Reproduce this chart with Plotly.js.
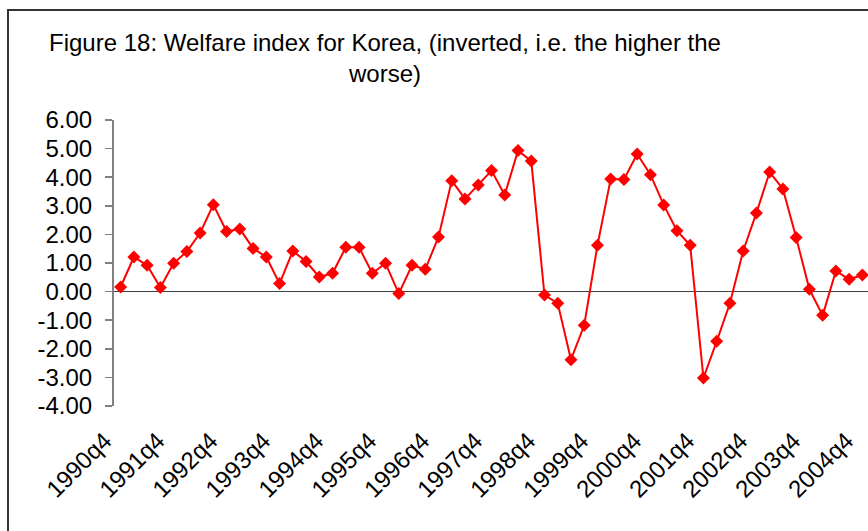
<!DOCTYPE html>
<html>
<head>
<meta charset="utf-8">
<script src="https://cdn.plot.ly/plotly-3.0.1.min.js"></script>
<style>
  html, body { margin: 0; padding: 0; background: #fff; width: 868px; height: 531px; overflow: hidden; }
  #chart { position: absolute; left: 0; top: 0; width: 875px; height: 531px; }
  #frame { position: absolute; left: 7px; top: 9px; width: 1000px; height: 1000px;
           border-left: 2px solid #333; border-top: 2px solid #333; pointer-events: none; }
</style>
</head>
<body>
<div id="chart"></div>
<div id="frame"></div>
<script>
const quarters = [
  "1990q4",
  "1991q1","1991q2","1991q3","1991q4",
  "1992q1","1992q2","1992q3","1992q4",
  "1993q1","1993q2","1993q3","1993q4",
  "1994q1","1994q2","1994q3","1994q4",
  "1995q1","1995q2","1995q3","1995q4",
  "1996q1","1996q2","1996q3","1996q4",
  "1997q1","1997q2","1997q3","1997q4",
  "1998q1","1998q2","1998q3","1998q4",
  "1999q1","1999q2","1999q3","1999q4",
  "2000q1","2000q2","2000q3","2000q4",
  "2001q1","2001q2","2001q3","2001q4",
  "2002q1","2002q2","2002q3","2002q4",
  "2003q1","2003q2","2003q3","2003q4",
  "2004q1","2004q2","2004q3","2004q4"
];

const welfareIndex = [
  0.16,
  1.21, 0.92, 0.14, 0.99,
  1.40, 2.05, 3.04, 2.10,
  2.19, 1.51, 1.21, 0.28,
  1.42, 1.05, 0.51, 0.64,
  1.55, 1.55, 0.64, 0.99,
  -0.07, 0.92, 0.78, 1.91,
  3.88, 3.24, 3.73, 4.23,
  3.38, 4.93, 4.57, -0.12,
  -0.41, -2.38, -1.18, 1.62,
  3.94, 3.92, 4.81, 4.09,
  3.03, 2.13, 1.62, -3.02,
  -1.74, -0.41, 1.42, 2.75,
  4.18, 3.59, 1.89, 0.08,
  -0.83, 0.72, 0.43, 0.58
];

const xTickLabels = ["1990q4","1991q4","1992q4","1993q4","1994q4","1995q4","1996q4",
  "1997q4","1998q4","1999q4","2000q4","2001q4","2002q4","2003q4","2004q4"];
const yTickValues = [6, 5, 4, 3, 2, 1, 0, -1, -2, -3, -4];
const yTickLabels = yTickValues.map(v => v.toFixed(2));

const FONT = "Arial, 'Liberation Sans', sans-serif";

const trace = {
  x: quarters,
  y: welfareIndex,
  type: "scatter",
  mode: "lines+markers",
  line: { color: "#ff0000", width: 2 },
  marker: { symbol: "diamond", size: 10, color: "#ff0000" },
  showlegend: false,
  hoverinfo: "x+y"
};

const layout = {
  autosize: false,
  width: 875,
  height: 531,
  margin: { l: 114, r: 6, t: 120, b: 125 },
  paper_bgcolor: "#ffffff",
  plot_bgcolor: "#ffffff",
  font: { family: FONT, color: "#000000", size: 24 },
  title: {
    text: "Figure 18: Welfare index for Korea, (inverted, i.e. the higher the<br>worse)",
    font: { family: FONT, size: 24, color: "#000000" },
    xref: "container", yref: "container",
    x: 385 / 875, xanchor: "center",
    y: 1 - 51 / 531, yanchor: "top"
  },
  xaxis: {
    type: "category",
    categoryorder: "array",
    categoryarray: quarters,
    range: [-0.5, quarters.length - 0.5],
    tickmode: "array",
    tickvals: xTickLabels,
    ticktext: xTickLabels,
    tickangle: -45,
    ticks: "",
    showline: false,
    showgrid: false,
    zeroline: false,
    ticklabelstandoff: 15,
    ticklabelshift: -16,
    tickfont: { family: FONT, size: 24, color: "#000000" },
    fixedrange: true
  },
  yaxis: {
    range: [-4, 6],
    tickmode: "array",
    tickvals: yTickValues,
    ticktext: yTickLabels,
    ticks: "outside",
    ticklen: 7,
    tickwidth: 1.5,
    tickcolor: "#808080",
    showline: true,
    linecolor: "#808080",
    linewidth: 2,
    showgrid: false,
    zeroline: true,
    zerolinecolor: "#404040",
    zerolinewidth: 1.5,
    ticklabelstandoff: 8,
    tickfont: { family: FONT, size: 24, color: "#000000" },
    fixedrange: true
  }
};

Plotly.newPlot("chart", [trace], layout, { displayModeBar: false, staticPlot: true });
</script>
</body>
</html>
